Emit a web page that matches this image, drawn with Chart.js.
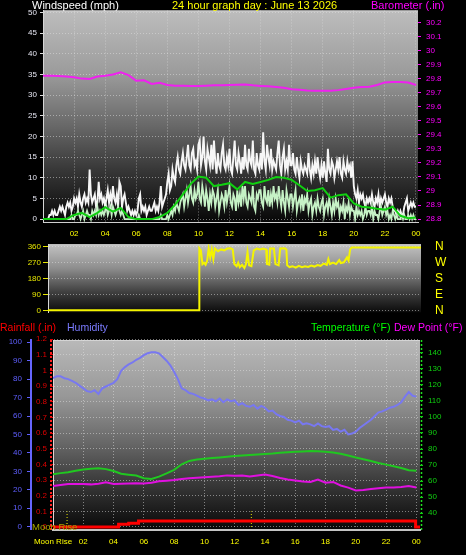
<!DOCTYPE html>
<html><head><meta charset="utf-8">
<script src="https://cdn.jsdelivr.net/npm/chart.js@4"></script>
<style>
html,body{margin:0;padding:0;background:#000;width:466px;height:555px;overflow:hidden;position:relative;}
canvas{position:absolute;left:0;}
.t{position:absolute;font-family:"Liberation Sans",Arial,sans-serif;font-size:11px;white-space:nowrap;line-height:12px;}
.s{font-size:10.5px;}
</style></head><body>
<canvas id="c1" width="466" height="243" style="top:0px"></canvas>
<canvas id="c2" width="466" height="90" style="top:232px"></canvas>
<canvas id="c3" width="466" height="237" style="top:318px"></canvas>
<div class="t" style="left:32px;top:-1px;color:#ffffff">Windspeed (mph)</div>
<div class="t" style="left:172px;top:-1px;color:#ffff00">24 hour graph day : June 13 2026</div>
<div class="t" style="left:371px;top:-1px;color:#ff00ff">Barometer (.in)</div>
<div class="t s" style="left:0px;top:321px;color:#ff0000">Rainfall (.in)</div>
<div class="t s" style="left:67px;top:321px;color:#7b7bff">Humidity</div>
<div class="t s" style="left:311px;top:321px;color:#00ff00">Temperature (°F)</div>
<div class="t s" style="left:394px;top:321px;color:#ff00ff">Dew Point (°F)</div>
<div class="t" style="left:32px;top:521px;color:#a8a800;font-size:9.5px">Moon Rise</div>
<script>
// ---------- tick definitions ----------
const hourTicks = [2,4,6,8,10,12,14,16,18,20,22,24];
const hourLabels = ['02','04','06','08','10','12','14','16','18','20','22','00'];
const hourTicks3 = [0,2,4,6,8,10,12,14,16,18,20,22,24];
const hourLabels3 = ['Moon Rise','02','04','06','08','10','12','14','16','18','20','22','00'];
const windTicks = [0,5,10,15,20,25,30,35,40,45,50];
const baroTicks = [28.8,28.9,29.0,29.1,29.2,29.3,29.4,29.5,29.6,29.7,29.8,29.9,30.0,30.1,30.2];
const dirTicks = [0,90,180,270,360];
const dirLabels = ['0','90','180','270','360'];
const compassLabels = ['N','E','S','W','N'];
const humTicks = [0,10,20,30,40,50,60,70,80,90,100];
const rainTicks = [0,0.1,0.2,0.3,0.4,0.5,0.6,0.7,0.8,0.9,1.0,1.1,1.2];
const rainLabels = ['0','0.1','0.2','0.3','0.4','0.5','0.6','0.7','0.8','0.9','1','1.1','1.2'];
const tempTicks = [40,50,60,70,80,90,100,110,120,130,140];

// ---------- data ----------
const windStepHours = 1/12; // 5-minute samples
const windGust = [
 0,0,0,0,0,1,1,2,1,2,1,1,
 2,3,2,3,2,1,3,4,3,4,2,3,
 5,4,5,3,6,4,3,5,6,4,5,4,
 12,6,4,5,6,3,4,9,5,6,4,5,
 3,5,7,4,6,4,8,5,4,6,3,9,
 8,3,5,6,4,2,3,2,1,2,1,2,
 1,2,5,6,2,3,2,3,1,2,3,2,
 2,3,4,2,3,2,4,8,3,4,5,6,
 9,11,7,8,12,10,9,13,15,12,11,14,
 16,13,12,15,18,13,12,16,17,13,14,12,
 18,19,13,15,20,14,12,17,15,13,18,12,
 19,14,11,16,13,12,16,18,13,12,15,13,
 17,12,11,15,19,13,12,16,14,11,15,12,
 18,13,12,17,14,13,19,12,11,16,13,12,
 16,12,21,14,12,18,15,13,17,12,14,13,
 12,16,19,13,11,15,17,12,14,12,18,13,
 13,16,12,11,15,12,10,14,12,11,13,12,
 11,16,12,10,13,11,14,11,15,12,10,13,
 10,14,11,9,17,12,11,14,13,10,12,14,
 12,15,11,10,14,12,11,14,12,13,10,14,
 8,6,5,7,4,6,5,6,4,3,5,4,
 5,4,6,4,3,5,4,6,3,5,4,5,
 6,4,3,5,4,5,3,2,2,1,2,1,
 2,1,1,3,4,5,2,3,4,3,4,3,
 3];
const windAvg = [
 0,0,0,0,0,0,0,0,0,0,0,0,
 0,0,0,0,0,0,0,0,0,0,1,0,
 0,1,1,2,1,0,1,2,0,1,2,1,
 1,0,2,1,2,1,3,1,2,1,2,1,
 2,3,1,2,3,1,3,2,1,2,3,2,
 1,2,1,0,0,0,0,0,0,0,0,0,
 0,0,1,0,0,0,0,0,0,0,0,0,
 0,0,0,0,0,0,0,1,0,0,0,0,
 1,0,1,2,1,3,2,4,3,2,4,5,
 6,3,5,7,4,6,8,5,4,7,5,6,
 9,5,4,8,6,3,7,5,2,6,4,7,
 6,3,5,7,2,4,6,5,3,7,4,6,
 8,4,3,6,5,2,7,4,6,3,8,5,
 8,4,3,6,5,4,8,3,2,6,5,7,
 7,4,3,8,5,4,7,3,6,4,8,5,
 6,4,8,5,3,7,4,2,7,5,3,6,
 6,3,5,7,2,4,5,3,6,2,5,4,
 6,2,4,5,1,3,4,2,5,3,2,4,
 5,1,3,4,2,5,3,1,4,2,5,3,
 4,1,3,2,4,0,3,2,4,1,3,2,
 2,0,3,1,2,1,2,0,1,3,1,2,
 2,1,3,0,2,1,1,0,2,3,1,2,
 3,1,2,0,1,0,2,1,0,1,0,0,
 0,1,0,1,0,0,1,0,1,0,1,0,
 0];
const halfHourStep = 0.5;
const windTrend = [0,0,0,0,1,1.5,0.5,1.5,2.9,1.8,2.7,0.5,0,0,0,0.5,1.5,3.5,6,8.5,10.3,10,8,8.3,8.7,7.2,9,8.5,9,9.5,10.2,10,9.5,8.2,6.8,7,7.5,5.2,5.8,6,3.8,3,2.8,2.5,2.3,3,0.8,0.2,0.4];
const baro = [29.82,29.82,29.818,29.815,29.81,29.80,29.797,29.815,29.82,29.83,29.845,29.825,29.785,29.788,29.762,29.77,29.755,29.75,29.75,29.748,29.748,29.75,29.752,29.752,29.755,29.757,29.758,29.752,29.748,29.745,29.74,29.735,29.725,29.72,29.716,29.714,29.713,29.714,29.718,29.726,29.735,29.74,29.742,29.755,29.773,29.776,29.775,29.772,29.755];

const dirTime = [0,9.98,10.0,10.1,10.2,10.3,10.4,10.5,10.6,10.7,10.8,10.9,11.0,11.2,11.4,11.6,11.8,12.0,12.15,12.25,12.4,12.5,12.6,12.75,12.9,13.0,13.1,13.2,13.35,13.5,13.7,13.9,14.1,14.3,14.35,14.5,14.55,14.8,14.9,15.1,15.2,15.5,15.6,15.65,15.8,16.0,16.2,16.4,16.6,16.8,17.0,17.2,17.4,17.6,17.8,18.0,18.2,18.3,18.4,18.6,18.8,19.0,19.1,19.3,19.5,19.6,19.7,19.8,24.3];
const dirDeg  = [0,0,352,340,262,270,258,280,350,300,345,290,350,335,345,340,350,352,345,262,250,270,245,258,240,262,330,255,250,340,350,345,350,345,262,258,350,350,262,255,350,352,345,255,245,250,242,252,244,250,246,254,248,256,252,265,258,290,262,270,262,285,268,272,300,282,345,356,356];

const quarterStep = 0.25;
const humidity = [80.5,81.5,81.5,80.5,80,79,78,76.5,75,73.5,73,74,72,75,76,77,78,80,84.5,86.5,88,89,90.5,91.5,93,94,94.5,94.5,94,92,90,87.5,84,80,75,74,72.5,72,71,70,69.5,68.5,69,68,69.5,67.5,69,68,68.5,66,67,65.5,65,66,64,65.5,64.5,62.5,63,61,60,59.5,58,57.5,56.5,57.5,55.5,56,55.5,54.5,56,54.5,54,54.5,52.5,53,51.5,52.5,50,50.5,51.5,53.5,55,56.5,58,60,62,62.5,63.5,64.5,65,66,67.5,70.5,73,71,70.5];
const temperature = [64.3,65,65.6,66.5,67.3,67.8,68,67.5,66.3,64.6,64,63.5,61.8,61.4,62.8,64.8,67,70.5,72.6,73.5,74,74.4,74.8,75.2,75.6,76,76.3,76.6,76.9,77.2,77.7,78,78.3,78.5,78.8,78.7,78.3,77.8,77.1,76,74.7,73.7,72.5,71.3,70.3,69.3,68.2,66.8,66.5];
const dewPoint = [57,57.6,58.2,58.3,58.2,58,58.4,59.3,58.3,58.4,58.6,58.7,58.5,59,60,60.3,60.7,61.3,61.8,62.1,62.4,62.7,63,63.6,63.3,63.5,62.9,63.5,64.2,63.2,62,61,60.4,59.8,59.5,61,59,59.5,57.3,56,54.2,54.5,55.1,55.6,56,56,56.3,57,56];
const rainTime = [0,4.33,5.0,5.65,23.95,24.3];
const rainTotal = [0,0.017,0.024,0.038,0,0];
const moonTimes = [0.93,13.1];
const moonMarkHeight = 0.1;

// ---------- helpers ----------
const FONT = "'Liberation Sans', Arial, sans-serif";
const series = (vals, step) => vals.map((v,i)=>({x:i*step, y:v}));
const pairs = (xs, ys) => xs.map((x,i)=>({x:x, y:ys[i]}));
const fixTicks = arr => (s => { s.ticks = arr.map(v=>({value:v})); });
const fmt1 = v => String(Math.round(v*10)/10);
const GRID = 'rgba(225,225,225,0.5)';

const frameCfg = {
  c1:{stops:[[0,'#bdbdbd'],[0.3,'#9b9b9b'],[0.55,'#676767'],[0.75,'#383838'],[0.9,'#1b1b1b'],[1,'#070707']], lines:[]},
  c2:{stops:[[0,'#c2c2c2'],[0.35,'#8e8e8e'],[0.7,'#404040'],[1,'#0b0b0b']], lines:[]},
  c3:{stops:[[0,'#b9b9b9'],[0.3,'#979797'],[0.55,'#666666'],[0.75,'#3a3a3a'],[0.9,'#1c1c1c'],[1,'#080808']],
      lines:[{scale:'yR',side:'right',off:-2,color:'#ff2020',dash:[2,2],width:2},
             {scale:'yT',side:'left',off:1.5,color:'#20e020',dash:[2,2],width:1.5}]}
};
const framePlugin = {
  id:'frame',
  beforeDraw(chart){
    const cfg = frameCfg[chart.canvas.id]; if(!cfg) return;
    const {ctx, chartArea:a} = chart;
    const g = ctx.createLinearGradient(0,a.top,0,a.bottom);
    cfg.stops.forEach(s=>g.addColorStop(s[0],s[1]));
    ctx.save();
    ctx.fillStyle = g;
    ctx.fillRect(a.left,a.top,a.right-a.left,a.bottom-a.top);
    ctx.strokeStyle = '#d4d4d4'; ctx.lineWidth = 1;
    ctx.beginPath(); ctx.moveTo(a.left,a.top+0.5); ctx.lineTo(a.right,a.top+0.5); ctx.stroke();
    cfg.lines.forEach(l=>{
      const sc = chart.scales[l.scale];
      const x = sc[l.side] + l.off;
      ctx.strokeStyle = l.color; ctx.lineWidth = l.width; ctx.setLineDash(l.dash);
      ctx.beginPath(); ctx.moveTo(x, a.top); ctx.lineTo(x, a.bottom+2); ctx.stroke();
    });
    ctx.restore();
  }
};
Chart.register(framePlugin);

const baseOpts = {responsive:false, animation:false, devicePixelRatio:1,
  plugins:{legend:{display:false}, tooltip:{enabled:false}},
  elements:{point:{radius:0}, line:{tension:0}}};

// ---------- chart 1 : wind + barometer ----------
new Chart(document.getElementById('c1'), {
  type:'line',
  data:{datasets:[
    {data:series(windTrend, halfHourStep), yAxisID:'yW', borderColor:'#10d010', borderWidth:2},
    {data:series(windAvg, windStepHours), yAxisID:'yW', borderColor:'#c6f2c6', borderWidth:1.8},
    {data:series(windGust, windStepHours), yAxisID:'yW', borderColor:'#f6f6f6', borderWidth:1.9},
    {data:series(baro, halfHourStep), yAxisID:'yB', borderColor:'#f020f0', borderWidth:2}
  ]},
  options:Object.assign({}, baseOpts, {
    layout:{padding:{top:10.5,left:0,right:0,bottom:0}},
    scales:{
      x:{type:'linear', min:0, max:24.13, afterBuildTicks:fixTicks(hourTicks), afterFit:s=>{s.height=21;},
         ticks:{autoSkip:false, maxRotation:0, color:'#ffff00', font:{family:FONT,size:8}, padding:7, callback:(v,i)=>hourLabels[i]},
         grid:{color:GRID, drawTicks:false}, border:{display:true, color:'#cfcfcf', width:1, dash:[1,2]}},
      yW:{type:'linear', position:'left', min:-0.7, max:50.5, afterBuildTicks:fixTicks(windTicks), afterFit:s=>{s.width=43;},
         ticks:{autoSkip:false, color:'#e6e6f2', font:{family:FONT,size:8}, padding:3, callback:(v)=>String(v)},
         grid:{color:GRID, tickLength:3, tickColor:'#dcdcdc'}, border:{display:true, color:'#d6d6d6', width:1, dash:[1,2]}},
      yB:{type:'linear', position:'right', min:28.779, max:30.285, afterBuildTicks:fixTicks(baroTicks), afterFit:s=>{s.width=48;},
         ticks:{autoSkip:false, color:'#ff00ff', font:{family:FONT,size:8}, padding:5, callback:v=>fmt1(v)},
         grid:{drawOnChartArea:false, tickLength:3, tickColor:'#ff00ff'}, border:{display:false}}
    }
  })
});

// ---------- chart 2 : wind direction ----------
new Chart(document.getElementById('c2'), {
  type:'line',
  data:{datasets:[
    {data:pairs(dirTime, dirDeg), yAxisID:'yD', borderColor:'#f4f400', borderWidth:2}
  ]},
  options:Object.assign({}, baseOpts, {
    layout:{padding:{top:12.3,left:0,right:0,bottom:9.7}},
    scales:{
      x:{type:'linear', min:0.264, max:24.26, display:false},
      yD:{type:'linear', position:'left', min:-11, max:374, afterBuildTicks:fixTicks(dirTicks), afterFit:s=>{s.width=48;},
         ticks:{autoSkip:false, color:'#e6e600', font:{family:FONT,size:8}, padding:2, callback:(v,i)=>dirLabels[i]},
         grid:{color:GRID, tickLength:5, tickColor:'#e6e600'}, border:{display:true, color:'#d6d6d6', width:1, dash:[1,2]}},
      yC:{type:'linear', position:'right', min:-11, max:374, afterBuildTicks:fixTicks(dirTicks), afterFit:s=>{s.width=45;},
         ticks:{autoSkip:false, color:'#ffff00', font:{family:FONT,size:12}, padding:0, callback:(v,i)=>compassLabels[i]},
         grid:{drawOnChartArea:false, drawTicks:true, tickLength:14, tickColor:'rgba(0,0,0,0)'}, border:{display:false}}
    }
  })
});

// ---------- chart 3 : rain, humidity, temperature, dew point ----------
const moonData = [];
moonTimes.forEach(t=>{ moonData.push({x:t,y:0},{x:t,y:moonMarkHeight},{x:t,y:null}); });
new Chart(document.getElementById('c3'), {
  type:'line',
  data:{datasets:[
    {data:pairs(rainTime, rainTotal), yAxisID:'yR', borderColor:'#ff0000', borderWidth:3, stepped:'before'},
    {data:moonData, yAxisID:'yR', borderColor:'#e8e800', borderWidth:1, borderDash:[1,2], spanGaps:false},
    {data:series(temperature, halfHourStep), yAxisID:'yT', borderColor:'#20c820', borderWidth:2},
    {data:series(dewPoint, halfHourStep), yAxisID:'yT', borderColor:'#e010e0', borderWidth:2},
    {data:series(humidity, quarterStep), yAxisID:'yH', borderColor:'#7878f0', borderWidth:2}
  ]},
  options:Object.assign({}, baseOpts, {
    layout:{padding:{top:22,left:0,right:0,bottom:0}},
    scales:{
      x:{type:'linear', min:0, max:24.24, afterBuildTicks:fixTicks(hourTicks3), afterFit:s=>{s.height=25.5;},
         ticks:{autoSkip:false, maxRotation:0, color:'#ffff00', font:{family:FONT,size:8}, padding:7, callback:(v,i)=>hourLabels3[i]},
         grid:{color:GRID, drawTicks:false}, border:{display:true, color:'#c4c4c4', width:2, dash:[1,2]}},
      yH:{type:'linear', position:'left', weight:2, min:-1.5, max:101.2, afterBuildTicks:fixTicks(humTicks), afterFit:s=>{s.width=31;},
         ticks:{autoSkip:false, color:'#5f5fff', font:{family:FONT,size:8}, padding:5, callback:v=>String(v)},
         grid:{drawOnChartArea:false, tickLength:4, tickColor:'#6060ff'}, border:{display:true, color:'#6666ff', width:2}},
      yR:{type:'linear', position:'left', weight:1, min:-0.016, max:1.195, afterBuildTicks:fixTicks(rainTicks), afterFit:s=>{s.width=22;},
         ticks:{autoSkip:false, color:'#e00000', font:{family:FONT,size:8}, padding:3, callback:(v,i)=>rainLabels[i]},
         grid:{color:GRID, tickLength:3, tickColor:'#e00000'}, border:{display:true, color:'#e8d0d0', width:1, dash:[1,2]}},
      yT:{type:'linear', position:'right', min:29.9, max:147.9, afterBuildTicks:fixTicks(tempTicks), afterFit:s=>{s.width=46;},
         ticks:{autoSkip:false, color:'#10d010', font:{family:FONT,size:8}, padding:5, callback:v=>String(v)},
         grid:{drawOnChartArea:false, tickLength:3, tickColor:'#10d010'}, border:{display:false}}
    }
  })
});
</script>
</body></html>
